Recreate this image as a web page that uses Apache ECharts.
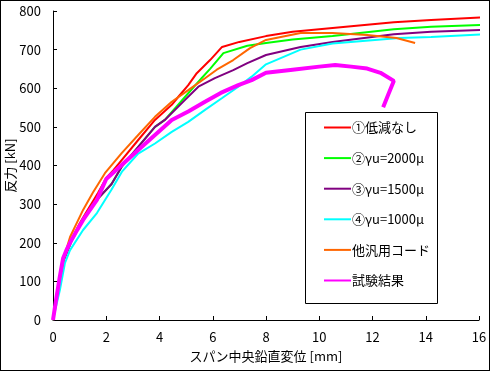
<!DOCTYPE html>
<html>
<head>
<meta charset="utf-8">
<script src="https://cdn.jsdelivr.net/npm/echarts@6/dist/echarts.min.js"></script>
<style>
html,body{margin:0;padding:0;background:#fff;}
#c{width:490px;height:371px;box-sizing:border-box;border:1px solid #000;}
</style>
</head>
<body>
<div id="c"></div>
<script>
const seriesNames = ['①低減なし', '②γu=2000μ', '③γu=1500μ', '④γu=1000μ', '他汎用コード', '試験結果'];
const xTicks = [0, 2, 4, 6, 8, 10, 12, 14, 16];
const yTicks = [0, 100, 200, 300, 400, 500, 600, 700, 800];

const noReduction = [[0,0],[0.1,40],[0.2,85],[0.4,155],[0.7,210],[1.0,250],[1.3,285],[1.7,330],[2.0,368],[2.27,388],[2.58,414],[3.2,466],[3.83,518],[4.46,557],[4.71,578],[5.08,608],[5.4,639],[5.9,673],[6.35,707],[7.0,720],[8.0,735],[9.0,746],[10.5,756],[12.0,766],[12.8,771],[14.2,777],[16.2,784]];
const gamma2000 = [[0,0],[0.1,40],[0.2,85],[0.4,155],[0.7,205],[1.0,245],[1.5,300],[2.2,352],[2.58,397],[3.2,448],[3.83,500],[4.2,518],[4.58,548],[5.08,587],[5.58,626],[5.9,650],[6.4,691],[7.3,710],[8.0,717],[9.0,726],[10.5,735],[12.8,753],[14.2,759],[16.2,764]];
const gamma1500 = [[0,0],[0.1,40],[0.2,85],[0.4,155],[0.7,205],[1.0,245],[1.5,300],[2.2,352],[2.58,397],[3.2,448],[3.83,500],[4.2,518],[4.96,570],[5.46,604],[6.08,626],[6.77,647],[7.3,665],[8.0,686],[9.3,707],[10.5,720],[12.8,740],[14.2,746],[16.2,751]];
const gamma1000 = [[0,0],[0.13,40],[0.26,78],[0.45,148],[0.64,181],[1.13,233],[1.65,277],[2.2,338],[2.6,385],[3.2,431],[3.83,457],[4.46,487],[5.08,513],[5.71,544],[6.34,574],[6.96,604],[7.46,630],[8.0,662],[9.3,700],[10.5,716],[13.0,730],[14.2,733],[16.2,740]];
const otherCode = [[0,0],[0.1,40],[0.2,85],[0.4,160],[0.64,215],[1.13,285],[1.5,330],[1.95,380],[2.58,432],[3.2,479],[3.83,526],[4.46,565],[5.08,595],[5.71,626],[6.15,648],[6.77,673],[7.4,704],[8.0,725],[9.3,743],[10.5,743],[11.8,738],[12.9,730],[13.6,717]];
const testResult = [[0,0],[0.1,45],[0.25,110],[0.38,160],[0.5,180],[0.64,200],[0.9,232],[1.13,259],[1.65,311],[2.0,365],[3.2,440],[4.46,518],[5.08,540],[5.71,565],[6.3,588],[6.96,608],[7.46,621],[8.0,640],[9.0,648],[10.0,656],[10.6,660],[11.2,656],[11.8,651],[12.3,640],[12.8,619],[12.6,585],[12.4,551]];

const colors = ['#FF0000', '#00FF00', '#800080', '#00FFFF', '#FF6600', '#FF00FF'];
const widths = [2, 2, 2, 2, 2, 4];
const datasets = [noReduction, gamma2000, gamma1500, gamma1000, otherCode, testResult];
const FONT = '"Noto Sans CJK JP", sans-serif';

const chart = echarts.init(document.getElementById('c'));
chart.setOption({
  animation: false,
  backgroundColor: '#fff',
  textStyle: {fontFamily: FONT},
  grid: {left: 52, right: 10, top: 10, bottom: 50, containLabel: false, outerBoundsMode: 'none'},
  xAxis: {
    type: 'value', min: xTicks[0], max: xTicks[xTicks.length - 1], interval: 2,
    name: 'スパン中央鉛直変位 [mm]', nameLocation: 'middle', nameGap: 30, nameMoveOverlap: false,
    nameTextStyle: {color: '#000', fontSize: 13, fontFamily: FONT},
    axisLine: {lineStyle: {color: '#000', width: 1}},
    axisTick: {inside: true, length: 4, lineStyle: {color: '#000'}},
    axisLabel: {color: '#000', fontSize: 13, margin: 11, fontFamily: FONT},
    splitLine: {show: false}
  },
  yAxis: {
    type: 'value', min: yTicks[0], max: yTicks[yTicks.length - 1], interval: 100,
    name: '反力 [kN]', nameLocation: 'middle', nameGap: 36, nameMoveOverlap: false,
    nameTextStyle: {color: '#000', fontSize: 13, fontFamily: FONT},
    axisLine: {show: true, lineStyle: {color: '#000', width: 1}},
    axisTick: {show: true, inside: true, length: 4, lineStyle: {color: '#000'}},
    axisLabel: {color: '#000', fontSize: 13, margin: 12, fontFamily: FONT},
    splitLine: {show: false}
  },
  legend: {
    orient: 'vertical', left: 322, top: 120, padding: 0, z: 30,
    itemWidth: 27, itemHeight: 14, itemGap: 17.6,
    itemStyle: {opacity: 0},
    textStyle: {color: '#000', fontSize: 13, fontFamily: FONT, padding: [0, 0, 0, -4]},
    data: seriesNames
  },
  graphic: [{
    type: 'rect', left: 304, top: 111, z: 8,
    shape: {width: 132, height: 191},
    style: {fill: '#fff', stroke: '#000', lineWidth: 1}
  }],
  series: seriesNames.map((n, i) => ({
    name: n, type: 'line', data: datasets[i], showSymbol: false, symbol: 'none',
    clip: false, z: 2 + i,
    lineStyle: {color: colors[i], width: widths[i]},
    itemStyle: {color: colors[i]}
  }))
});
</script>
</body>
</html>
